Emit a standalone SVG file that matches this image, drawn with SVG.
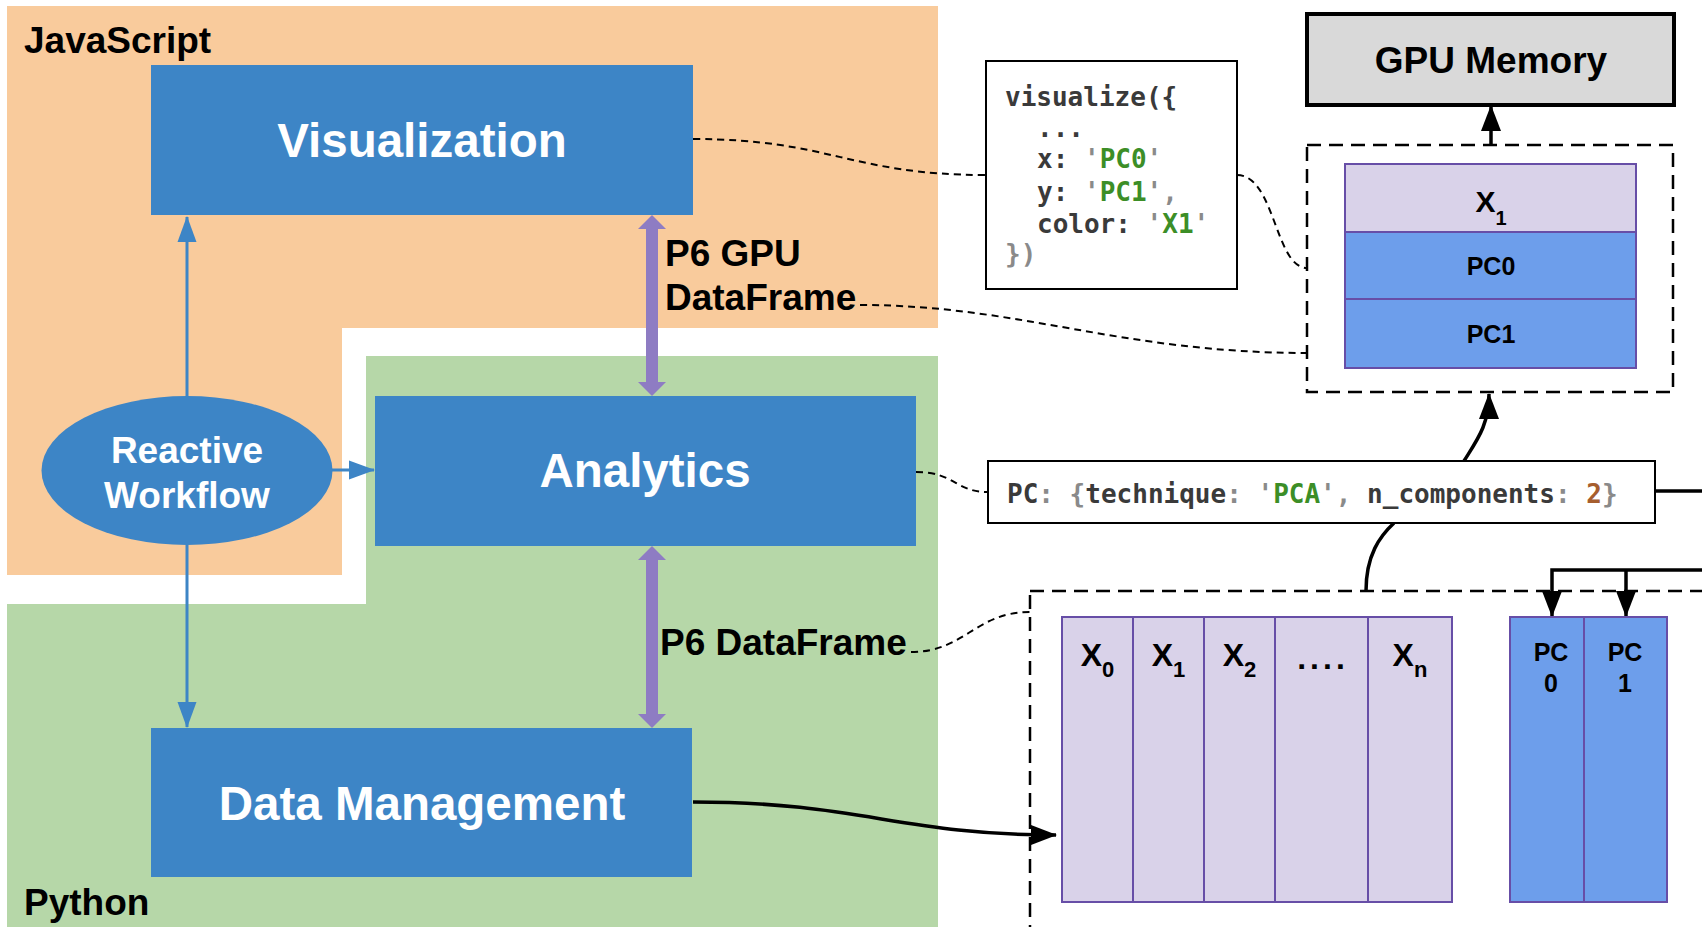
<svg xmlns="http://www.w3.org/2000/svg" width="1702" height="927" viewBox="0 0 1702 927">
<style>
.lbl{font-family:"Liberation Sans",Arial,sans-serif;font-weight:bold;}
.wt{fill:#ffffff;font-size:47.5px;text-anchor:middle;}
.bk{fill:#000000;}
.code{font-family:"DejaVu Sans Mono","Liberation Mono",monospace;font-weight:bold;font-size:26px;fill:#3a3a3a;}
.g{fill:#3c8e27;}
.q{fill:#8a8a8a;}
.br{fill:#a65e2e;}
.node{fill:#3d85c6;}
.col{fill:#d9d2e9;stroke:#674ea7;stroke-width:2;}
.pc{fill:#6d9eeb;stroke:#674ea7;stroke-width:2;}
.dash{fill:none;stroke:#000;stroke-width:2;stroke-dasharray:7,5;}
.dbox{fill:none;stroke:#000;stroke-width:2.5;stroke-dasharray:14,8;}
.blk{fill:none;stroke:#000;stroke-width:3.5;}
.blu{fill:none;stroke:#3d85c6;stroke-width:3;}
</style>
<defs>
<marker id="ab" markerUnits="userSpaceOnUse" markerWidth="26" markerHeight="20" viewBox="0 0 26 20" refX="25" refY="10" orient="auto"><path d="M0,0 L26,10 L0,20 z" fill="#000"/></marker>
<marker id="au" markerUnits="userSpaceOnUse" markerWidth="26" markerHeight="20" viewBox="0 0 26 20" refX="25" refY="10" orient="auto"><path d="M0,0.5 L26,10 L0,19.5 z" fill="#3d85c6"/></marker>
</defs>

<g id="regions">
<polygon points="7,6 938,6 938,328 342,328 342,575 7,575" fill="#f9cb9c"/>
<polygon points="366,356 938,356 938,927 7,927 7,604 366,604" fill="#b6d7a8"/>
<text class="lbl bk" x="24" y="53" font-size="37">JavaScript</text>
<text class="lbl bk" x="24" y="915" font-size="37">Python</text>
</g>

<g id="connectors">
<path class="dash" d="M693,139 C830,139 850,175 986,175"/>
<path class="dash" d="M1237,175 C1275,175 1275,268 1307,268"/>
<path class="dash" d="M860,305 C1020,305 1120,353 1307,353"/>
<path class="dash" d="M916,472 C955,472 955,492 988,492"/>
<path class="dash" d="M911,652 C965,652 975,612 1030,612"/>
<line class="blu" x1="187" y1="396" x2="187" y2="217" marker-end="url(#au)"/>
<line class="blu" x1="187" y1="545" x2="187" y2="727" marker-end="url(#au)"/>
<line class="blu" x1="332" y1="470" x2="374" y2="470" marker-end="url(#au)"/>
<g id="p6gpu" fill="#8e7cc3">
<rect x="646" y="228" width="12" height="156"/>
<polygon points="638,229 652,215 666,229"/>
<polygon points="638,382 652,396 666,382"/>
</g>
<g id="p6df" fill="#8e7cc3">
<rect x="646" y="559" width="12" height="156"/>
<polygon points="638,560 652,546 666,560"/>
<polygon points="638,714 652,728 666,714"/>
</g>
<text class="lbl bk" x="665" y="266" font-size="37">P6 GPU</text>
<text class="lbl bk" x="665" y="310" font-size="37">DataFrame</text>
<text class="lbl bk" x="660" y="655" font-size="37">P6 DataFrame</text>
<path class="blk" d="M693,802 C860,802 900,835 1056,835" marker-end="url(#ab)"/>
<line class="blk" x1="1491" y1="145" x2="1491" y2="106" marker-end="url(#ab)"/>
<path class="blk" d="M1464,461 C1477,440 1489,425 1489,394" marker-end="url(#ab)"/>
<path class="blk" d="M1366,591 C1366,555 1380,536 1394,523"/>
<line class="blk" x1="1655" y1="491" x2="1702" y2="491"/>
<path class="blk" d="M1702,570 H1552 V616" marker-end="url(#ab)"/>
<line class="blk" x1="1626" y1="570" x2="1626" y2="616" marker-end="url(#ab)"/>
</g>

<g id="visualization">
<rect class="node" x="151" y="65" width="542" height="150"/>
<text class="lbl wt" x="422" y="157">Visualization</text>
</g>

<g id="reactive-workflow">
<ellipse class="node" cx="187" cy="470.5" rx="145.5" ry="74.5"/>
<text class="lbl" fill="#fff" font-size="37" text-anchor="middle" x="187" y="463">Reactive</text>
<text class="lbl" fill="#fff" font-size="37" text-anchor="middle" x="187" y="508">Workflow</text>
</g>

<g id="analytics">
<rect class="node" x="375" y="396" width="541" height="150"/>
<text class="lbl wt" x="645" y="487">Analytics</text>
</g>

<g id="data-management">
<rect class="node" x="151" y="728" width="541" height="149"/>
<text class="lbl wt" x="422" y="820">Data Management</text>
</g>

<g id="code-visualize">
<rect x="986" y="61" width="251" height="228" fill="#fff" stroke="#000" stroke-width="2"/>
<text class="code" x="1005" y="106">visualize({</text>
<text class="code" x="1037" y="137">...</text>
<text class="code" x="1037" y="168">x: <tspan class="q">'</tspan><tspan class="g">PC0</tspan><tspan class="q">'</tspan></text>
<text class="code" x="1037" y="201">y: <tspan class="q">'</tspan><tspan class="g">PC1</tspan><tspan class="q">',</tspan></text>
<text class="code" x="1037" y="233">color: <tspan class="q">'</tspan><tspan class="g">X1</tspan><tspan class="q">'</tspan></text>
<text class="code q" x="1005" y="263">})</text>
</g>

<g id="gpu-memory">
<rect x="1307" y="14" width="367" height="91" fill="#d9d9d9" stroke="#000" stroke-width="4"/>
<text class="lbl bk" font-size="37" text-anchor="middle" x="1491" y="73">GPU Memory</text>
</g>

<g id="gpu-dataframe">
<rect class="dbox" x="1307" y="145" width="366" height="247"/>
<rect class="col" x="1345" y="164" width="291" height="68"/>
<rect class="pc" x="1345" y="232" width="291" height="67"/>
<rect class="pc" x="1345" y="299" width="291" height="69"/>
<text class="lbl bk" font-size="30" text-anchor="middle" x="1491" y="212">X<tspan font-size="20" dy="13">1</tspan></text>
<text class="lbl bk" font-size="25" text-anchor="middle" x="1491" y="275">PC0</text>
<text class="lbl bk" font-size="25" text-anchor="middle" x="1491" y="343">PC1</text>
</g>

<g id="pc-spec">
<rect x="988" y="461" width="667" height="62" fill="#fff" stroke="#000" stroke-width="2"/>
<text class="code" x="1007" y="503">PC<tspan class="q">: {</tspan>technique<tspan class="q">: '</tspan><tspan class="g">PCA</tspan><tspan class="q">', </tspan>n_components<tspan class="q">: </tspan><tspan class="br">2</tspan><tspan class="q">}</tspan></text>
</g>

<g id="python-dataframe">
<rect class="dbox" x="1030" y="591" width="720" height="400"/>
<rect class="col" x="1062" y="617" width="71" height="285"/>
<rect class="col" x="1133" y="617" width="71" height="285"/>
<rect class="col" x="1204" y="617" width="71" height="285"/>
<rect class="col" x="1275" y="617" width="93" height="285"/>
<rect class="col" x="1368" y="617" width="84" height="285"/>
<rect class="pc" x="1510" y="617" width="74" height="285"/>
<rect class="pc" x="1584" y="617" width="83" height="285"/>
<g class="lbl bk" font-size="32" text-anchor="middle">
<text x="1097.5" y="666">X<tspan font-size="22" dy="11">0</tspan></text>
<text x="1168.5" y="666">X<tspan font-size="22" dy="11">1</tspan></text>
<text x="1239.5" y="666">X<tspan font-size="22" dy="11">2</tspan></text>
<text x="1323" y="669" letter-spacing="4">....</text>
<text x="1410" y="666">X<tspan font-size="22" dy="11">n</tspan></text>
</g>
<g class="lbl bk" font-size="25" text-anchor="middle">
<text x="1551" y="661">PC</text>
<text x="1551" y="692">0</text>
<text x="1625" y="661">PC</text>
<text x="1625" y="692">1</text>
</g>
</g>
</svg>
